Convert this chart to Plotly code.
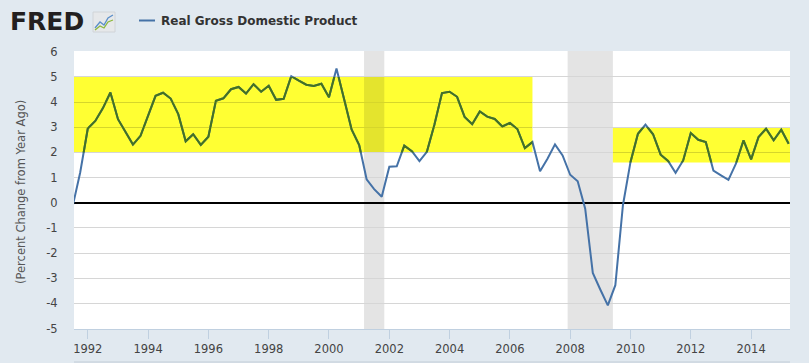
import pandas as pd
import plotly.graph_objects as go

# ---------------- data ----------------
quarters = pd.date_range("1991-07-01", "2015-04-01", freq="QS")
gdp_pct_change = [
    -0.15, 1.20,
    2.95, 3.25, 3.75, 4.38,
    3.32, 2.82, 2.31, 2.66,
    3.45, 4.25, 4.37, 4.14,
    3.52, 2.44, 2.72, 2.30,
    2.62, 4.05, 4.15, 4.51,
    4.60, 4.34, 4.71, 4.41,
    4.65, 4.09, 4.13, 5.03,
    4.85, 4.69, 4.64, 4.73,
    4.19, 5.33, 4.13, 2.91,
    2.29, 0.93, 0.54, 0.24,
    1.43, 1.45, 2.27, 2.05,
    1.65, 2.02, 3.10, 4.36,
    4.41, 4.21, 3.41, 3.12,
    3.63, 3.42, 3.33, 3.03,
    3.17, 2.93, 2.17, 2.41,
    1.25, 1.75, 2.32, 1.88,
    1.11, 0.85, -0.24, -2.79,
    -3.46, -4.08, -3.28, -0.10,
    1.62, 2.74, 3.10, 2.72,
    1.91, 1.66, 1.19, 1.68,
    2.77, 2.50, 2.41, 1.28,
    1.09, 0.91, 1.55, 2.48,
    1.72, 2.61, 2.94, 2.48,
    2.90, 2.34,
]
series_name = "Real Gross Domestic Product"
y_title = "(Percent Change from Year Ago)"
y_tick_values = [-5, -4, -3, -2, -1, 0, 1, 2, 3, 4, 5, 6]
y_tick_labels = [str(v) for v in y_tick_values]

recession_starts = ["2001-03-01", "2007-12-01"]
recession_ends = ["2001-11-01", "2009-06-01"]

band_starts = ["1991-07-01", "2009-06-01"]
band_ends = ["2006-10-01", "2015-06-30"]
band_lows = [2.0, 1.6]
band_highs = [5.0, 3.0]

# ---------------- layout constants ----------------
W, H = 809, 363
ML, MR, MT, MB = 74, 19, 51, 34
PW, PH = W - ML - MR, H - MT - MB
X_RANGE = ["1991-07-18", "2015-04-17"]
Y_RANGE = [-5.02, 6.03]

BLUE = "#4572a7"
GREEN = "#457221"
YELLOW = "#ffff33"
YELLOW_GRID = "#d6d62b"
REC_GREY = "#e4e4e4"
REC_YELLOW = "#e4e42d"
GRID = "#d6d6d6"
PAPER = "#e1e9f0"
FONT = "DejaVu Sans"

t0, t1 = pd.Timestamp(X_RANGE[0]), pd.Timestamp(X_RANGE[1])


def xfrac(t):
    return (pd.Timestamp(t) - t0) / (t1 - t0)


def yfrac(v):
    return (v - Y_RANGE[0]) / (Y_RANGE[1] - Y_RANGE[0])


def px(x):  # pixel -> paper x
    return (x - ML) / PW


def py(y):  # pixel -> paper y
    return (H - MB - y) / PH


fig = go.Figure()

# main blue line
fig.add_trace(go.Scatter(
    x=quarters, y=gdp_pct_change, mode="lines", name=series_name,
    line=dict(color=BLUE, width=2), hoverinfo="skip", showlegend=False,
))

shapes = [
    dict(type="rect", xref="x domain", yref="y domain", x0=0, x1=1, y0=0, y1=1,
         fillcolor="white", line=dict(width=0), layer="below"),
]
for s, e in zip(recession_starts, recession_ends):
    shapes.append(dict(type="rect", xref="x", yref="y domain", x0=s, x1=e, y0=0, y1=1,
                       fillcolor=REC_GREY, line=dict(width=0), layer="below"))

layout_axes = {}
for i, (bs, be, lo, hi) in enumerate(zip(band_starts, band_ends, band_lows, band_highs)):
    n = i + 2
    s = max(pd.Timestamp(bs), t0)
    e = min(pd.Timestamp(be), t1)
    shapes.append(dict(type="rect", xref="x", yref="y", x0=s.isoformat(), x1=e.isoformat(),
                       y0=lo, y1=hi, fillcolor=YELLOW, line=dict(width=0), layer="below"))
    # recession overlap inside the band
    for rs, re_ in zip(recession_starts, recession_ends):
        a = max(s, pd.Timestamp(rs))
        b = min(e, pd.Timestamp(re_))
        if a < b:
            shapes.append(dict(type="rect", xref="x", yref="y", x0=a.isoformat(), x1=b.isoformat(),
                               y0=lo, y1=hi, fillcolor=REC_YELLOW, line=dict(width=0), layer="below"))
    layout_axes[f"xaxis{n}"] = dict(
        domain=[xfrac(s), xfrac(e)], range=[s.isoformat(), e.isoformat()], type="date",
        anchor=f"y{n}", showgrid=False, showticklabels=False, ticks="", showline=False,
        zeroline=False, fixedrange=True, automargin=False,
    )
    layout_axes[f"yaxis{n}"] = dict(
        domain=[yfrac(lo), yfrac(hi)], range=[lo, hi], anchor=f"x{n}",
        tick0=0, dtick=1, showgrid=True, gridcolor=YELLOW_GRID, gridwidth=1,
        showticklabels=False, ticks="", showline=False, zeroline=False, fixedrange=True,
        automargin=False,
    )
    fig.add_trace(go.Scatter(
        x=quarters, y=gdp_pct_change, mode="lines", xaxis=f"x{n}", yaxis=f"y{n}",
        line=dict(color=GREEN, width=2), hoverinfo="skip", showlegend=False,
    ))

# legend line sample + navigator edge + FRED icon (decoration)
shapes += [
    dict(type="line", xref="paper", yref="paper", x0=px(139), x1=px(155), y0=py(20.5), y1=py(20.5),
         line=dict(color=BLUE, width=2)),
    dict(type="line", xref="paper", yref="paper", x0=px(74), x1=px(790), y0=py(362), y1=py(362),
         line=dict(color="#c2ccd6", width=1)),
    dict(type="rect", xref="paper", yref="paper", x0=px(93), x1=px(115), y0=py(32), y1=py(12),
         fillcolor="#e6e8ea", line=dict(color="#d0d4d8", width=1)),
    dict(type="path", xref="paper", yref="paper",
         path=f"M {px(95)} {py(28)} L {px(100)} {py(22)} L {px(104)} {py(25)} L {px(108)} {py(18)} L {px(113)} {py(15)}",
         line=dict(color="#5b8fc9", width=1.3)),
    dict(type="path", xref="paper", yref="paper",
         path=f"M {px(95)} {py(30)} L {px(100)} {py(26)} L {px(104)} {py(28)} L {px(108)} {py(22)} L {px(113)} {py(20)}",
         line=dict(color="#8cb83c", width=1.3)),
]

annotations = [
    dict(text="<b>FRED</b>", xref="paper", yref="paper", x=px(8), y=py(22), xanchor="left",
         yanchor="middle", showarrow=False, font=dict(family=FONT, size=25, color="#231f20")),
    dict(text="<b>" + series_name + "</b>", xref="paper", yref="paper", x=px(159), y=py(20.5),
         xanchor="left", yanchor="middle", showarrow=False,
         font=dict(family=FONT, size=12, color="#333333")),
    dict(text=y_title, xref="paper", yref="paper", x=px(21), y=py(192), xanchor="center",
         yanchor="middle", textangle=-90, showarrow=False,
         font=dict(family=FONT, size=11.5, color="#555555")),
]

fig.update_layout(
    width=W, height=H, margin=dict(l=ML, r=MR, t=MT, b=MB, autoexpand=False),
    paper_bgcolor=PAPER, plot_bgcolor="rgba(0,0,0,0)",
    font=dict(family=FONT, size=11.5, color="#444444"),
    showlegend=False, shapes=shapes, annotations=annotations,
    xaxis=dict(
        type="date", range=X_RANGE, tick0="1992-01-01", dtick="M24", tickformat="%Y",
        showgrid=False, zeroline=False, showline=True, linecolor="#c0d0e0", linewidth=1,
        ticks="outside", ticklen=9, tickcolor="#c0d0e0", tickwidth=1, automargin=False,
        tickfont=dict(family=FONT, size=11.5, color="#444444"),
    ),
    yaxis=dict(
        range=Y_RANGE, tickmode="array", tickvals=y_tick_values, ticktext=y_tick_labels,
        showgrid=True, gridcolor=GRID, gridwidth=1, automargin=False,
        zeroline=True, zerolinecolor="black", zerolinewidth=2, showline=False,
        ticks="outside", ticklen=13, tickcolor="rgba(0,0,0,0)",
        tickfont=dict(family=FONT, size=11.5, color="#444444"),
    ),
    **layout_axes,
)

fig.write_html(
    "out.html",
    config={"displayModeBar": False, "staticPlot": True},
    post_script="document.body.style.margin='0';document.body.style.overflow='hidden';",
)
